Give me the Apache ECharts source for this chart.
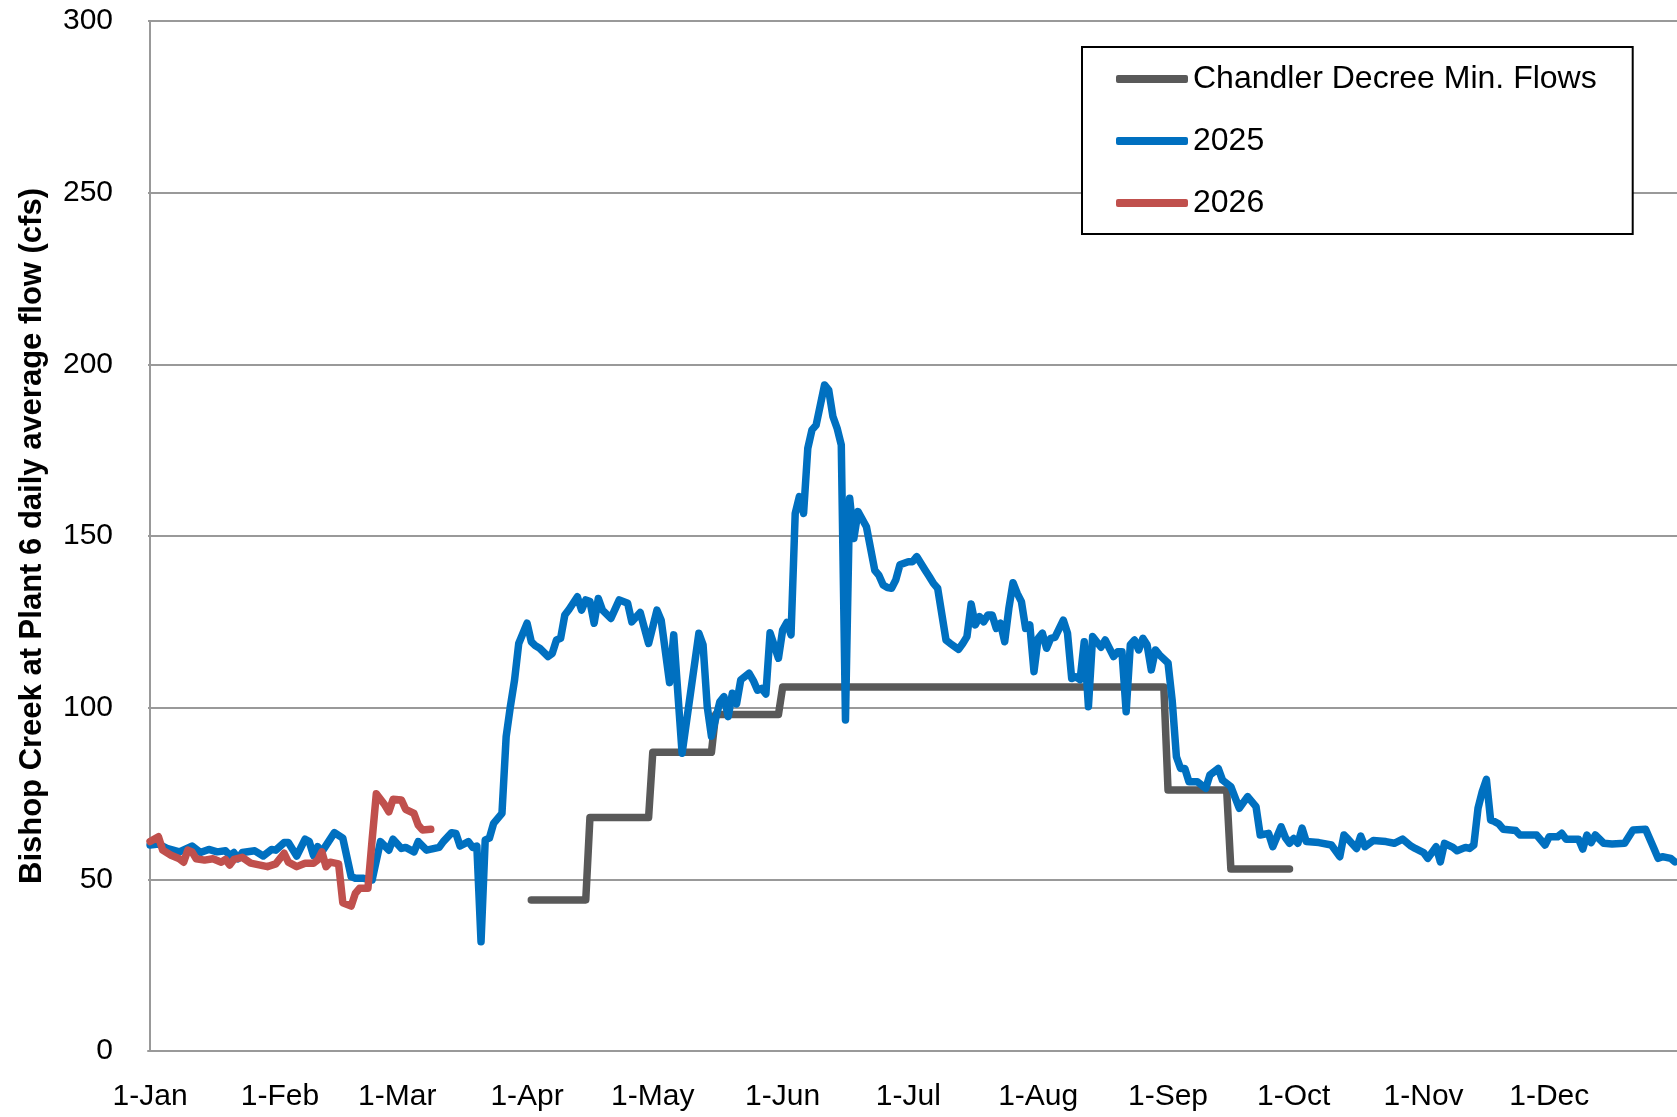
<!DOCTYPE html>
<html>
<head>
<meta charset="utf-8">
<script src="https://cdn.jsdelivr.net/npm/echarts@6/dist/echarts.min.js"></script>
<style>
html,body{margin:0;padding:0;background:#fff;}
#chart{width:1677px;height:1117px;}
</style>
</head>
<body>
<div id="chart"></div>
<script>
// Day-of-year index (0 = 1-Jan) for the month tick labels
const monthStartDays = [0, 31, 59, 90, 120, 151, 181, 212, 243, 273, 304, 334];
const monthLabels = ['1-Jan','1-Feb','1-Mar','1-Apr','1-May','1-Jun','1-Jul','1-Aug','1-Sep','1-Oct','1-Nov','1-Dec'];

const seriesNames = ['Chandler Decree Min. Flows', '2025', '2026'];

// [day index, cfs]
const chandlerMinFlows = [[91,44],[104,44],[105,68],[119,68],[120,87],[134,87],[135,98],[150,98],[151,106],[242,106],[243,76],[257,76],[258,53],[272,53]];

const flow2025 = [[0,60],[2,60.3],[4,59],[7,58],[10,59.7],[12,57.8],[14,58.7],[16,58],[18,58.3],[19,57],[20,57.8],[21,56],[22,57.8],[25,58.3],[27,56.8],[29,58.7],[30,58.5],[32,60.7],[33,60.7],[35,56.8],[37,61.7],[38,61],[39,57],[40,59.5],[41,58],[44,63.6],[46,62],[48,50.8],[49,50.3],[51,50.3],[53,49.8],[55,61],[57,58.5],[58,61.7],[60,59],[61,59.3],[63,58],[64,61],[66,58.5],[69,59.3],[70,61],[72,63.6],[73,63.4],[74,59.7],[76,61],[77,59.3],[78,59.7],[79,31.8],[80,61.5],[81,62],[82,66.3],[84,69.2],[85,91.6],[86,100.3],[87,108],[88,118.7],[90,124.6],[91,119.2],[92,118],[93,117.3],[95,114.9],[96,115.8],[97,119.7],[98,120.2],[99,127],[100,128.6],[102,132.3],[103,128.4],[104,131.4],[105,130.9],[106,124.6],[107,131.8],[108,128.4],[110,126],[112,131.4],[114,130.4],[115,125],[117,127.7],[119,118.7],[121,128.4],[122,125.5],[124,107.3],[125,121.2],[127,86.7],[131,121.7],[132,118.3],[133,100.3],[134,91.7],[136,101.7],[137,103.2],[138,97.4],[139,104.2],[140,101.1],[141,108.1],[143,110],[144,107.9],[145,105.1],[146,105.6],[147,104],[148,121.8],[150,114.4],[151,122.6],[152,124.8],[153,121.2],[154,156.6],[155,161.5],[156,156.6],[157,175.5],[158,180.9],[159,182.3],[161,194],[162,192.5],[163,184.8],[164,181.4],[165,176.5],[166,96.4],[167,161],[168,149.3],[169,157.1],[171,152.7],[173,140],[174,138.5],[175,135.7],[176,135],[177,134.8],[178,137.2],[179,141.6],[181,142.5],[182,142.5],[183,144],[185,140.1],[186,138.2],[187,136.2],[188,134.8],[190,119.7],[191,118.7],[193,117],[194,118.7],[195,120.7],[196,130.2],[197,124.1],[198,126.5],[199,125],[200,127],[201,127],[202,123.1],[203,124.6],[204,119.2],[205,128.9],[206,136.4],[207,133.3],[208,130.9],[209,123.1],[210,124.1],[211,110.5],[212,120.2],[213,121.7],[214,117.3],[215,120.2],[216,120.5],[218,125.5],[219,121.7],[220,108.5],[221,109],[222,108.1],[223,119.2],[224,100.3],[225,120.7],[227,117.6],[228,119.7],[230,114.9],[231,116.3],[232,116.3],[233,98.8],[234,118.3],[235,119.7],[236,116.8],[237,120.2],[238,118.3],[239,111],[240,116.8],[241,115.3],[243,113],[244,102],[245,85.7],[246,82.3],[247,82.3],[248,78.4],[249,78.4],[250,78.4],[252,76.5],[253,80.4],[255,82.3],[256,78.9],[258,77],[260,70.7],[262,74.1],[264,71.2],[265,62.9],[267,63.4],[268,59.5],[270,65.3],[271,62.2],[272,60.5],[273,61.9],[274,60.5],[275,64.9],[276,61],[279,60.7],[282,60],[284,56.6],[285,62.9],[286,61.7],[288,59],[289,62.6],[290,59.5],[292,61.3],[295,61],[297,60.5],[299,61.7],[301,59.7],[302,59],[304,57.8],[305,56.1],[307,59.5],[308,55.1],[309,60.5],[311,59.3],[312,58.3],[314,59.3],[315,59],[316,60],[317,70.7],[318,75.5],[319,79.1],[320,67.3],[321,66.8],[322,66.1],[323,64.6],[326,64.2],[327,62.9],[331,62.9],[333,60],[334,62.4],[336,62.4],[337,63.4],[338,61.7],[341,61.7],[342,58.8],[343,62.9],[344,60.7],[345,62.9],[347,60.5],[349,60.3],[352,60.5],[354,64.4],[357,64.6],[359,59],[360,56.1],[361,56.6],[363,56.1],[364,55.1]];

const flow2026 = [[0,61],[2,62.4],[3,58.5],[5,57],[7,56],[8,55],[9,58.5],[10,58],[11,56],[13,55.6],[15,56],[17,55],[18,55.8],[19,54.2],[20,55.8],[22,56.4],[24,54.7],[26,54.2],[28,53.7],[30,54.5],[32,57.6],[33,55],[35,53.7],[37,54.7],[39,54.7],[40,55.6],[41,58],[42,53.7],[43,55],[45,54.5],[46,43.2],[48,42.2],[49,45.9],[50,47.4],[52,47.4],[53,61.5],[54,74.9],[56,71.7],[57,69.7],[58,73.3],[60,73.1],[61,70.4],[63,69.2],[64,65.8],[65,64.4],[67,64.6]];

const seriesColors = ['#595959', '#0070C0', '#C0504D'];
const FONT = '"Liberation Sans", Arial, sans-serif';

const chart = echarts.init(document.getElementById('chart'), null, {renderer: 'canvas'});

function lineSeries(name, data, color) {
  return {
    name: name,
    type: 'line',
    data: data,
    symbol: 'none',
    showSymbol: false,
    smooth: false,
    animation: false,
    itemStyle: {color: color},
    lineStyle: {color: color, width: 7.5, cap: 'round', join: 'round'},
    emphasis: {disabled: true}
  };
}

chart.setOption({
  animation: false,
  backgroundColor: '#ffffff',
  grid: {
    left: 148, right: 0, top: 21, bottom: 66,
    containLabel: false,
    outerBoundsMode: 'none'
  },
  legend: {
    orient: 'vertical',
    left: 1082,
    top: 47,
    padding: [16, 36, 15, 34],
    itemGap: 30,
    itemWidth: 72,
    itemHeight: 8,
    icon: 'roundRect',
    itemStyle: {borderWidth: 0},
    borderColor: '#000',
    borderWidth: 2,
    borderRadius: 0,
    backgroundColor: '#ffffff',
    selectedMode: false,
    data: seriesNames,
    textStyle: {fontFamily: FONT, fontSize: 32, color: '#000', lineHeight: 32}
  },
  xAxis: {
    type: 'value',
    min: -0.5,
    max: 364.5,
    axisLine: {show: true, lineStyle: {color: '#999', width: 2}},
    axisTick: {show: false},
    splitLine: {show: false},
    axisLabel: {
      customValues: monthStartDays,
      formatter: function (v) {
        const i = monthStartDays.indexOf(Math.round(v));
        return i >= 0 ? monthLabels[i] : '';
      },
      fontFamily: FONT,
      fontSize: 30,
      color: '#000',
      margin: 31
    }
  },
  yAxis: {
    type: 'value',
    min: 0,
    max: 300,
    interval: 50,
    name: 'Bishop Creek at Plant 6 daily average flow (cfs)',
    nameLocation: 'middle',
    nameRotate: 90,
    nameGap: 100,
    nameTextStyle: {fontFamily: FONT, fontSize: 31, fontWeight: 'bold', color: '#000'},
    axisLine: {show: true, lineStyle: {color: '#999', width: 2}},
    axisTick: {show: false},
    splitLine: {show: true, lineStyle: {color: '#999', width: 2}},
    axisLabel: {fontFamily: FONT, fontSize: 30, color: '#000', margin: 35}
  },
  series: [
    lineSeries(seriesNames[0], chandlerMinFlows, seriesColors[0]),
    lineSeries(seriesNames[1], flow2025, seriesColors[1]),
    lineSeries(seriesNames[2], flow2026, seriesColors[2])
  ]
});
</script>
</body>
</html>
